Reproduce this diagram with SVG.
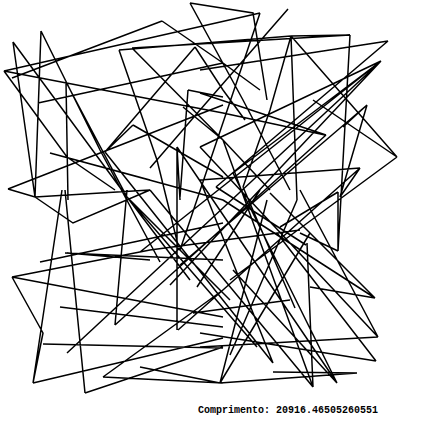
<svg xmlns="http://www.w3.org/2000/svg" width="446" height="444" viewBox="0 0 446 444">
<style>
.ln{fill:none;stroke:#000;stroke-width:1.5;stroke-linejoin:miter}
.t{font-family:"Liberation Mono","DejaVu Sans Mono",monospace;font-weight:bold;font-size:10px;fill:#000}
</style>
<rect width="446" height="444" fill="#fff"/>
<g id="path">
<path class="ln" d="
M190,3 L253,13 L267,100
M190,3 L243,100 L290,190
M260,13 L4,71 L223,113 L325,135
M260,13 L233,93 L180,250
M162,21 L12,78
M162,21 L223,63 L260,90
M4,71 L67,157 L115,190
M13,42 L35,197
M13,42 L127,197 L190,280
M41,31 L35,197
M41,31 L100,150 L160,262
M119,50 L291,36
M132,48 L350,35
M119,50 L157,160 L178,245
M132,48 L223,140 L270,190
M195,47 L105,152
M195,47 L223,90 L245,120
M38,103 L223,63
M66,82 L68,200
M66,82 L127,197 L230,300
M188,90 L223,97
M188,90 L180,197
M8,189 L223,105
M50,153 L223,200
M183,107 L223,140
M133,125 L105,152
M133,125 L223,177
M177,147 L180,200
M288,9 L200,110 L150,168
M291,36 L350,35
M291,36 L297,200
M291,36 L397,157
M291,36 L270,110 L243,187
M350,35 L338,251
M388,41 L200,70
M388,41 L216,187
M381,61 L200,147
M381,61 L233,173
M381,61 L67,353
M381,61 L140,252
M381,61 L170,285
M367,105 L340,197
M367,105 L180,265
M367,105 L343,127
M397,157 L313,100
M397,157 L230,280
M326,135 L200,93
M326,135 L115,325
M360,168 L200,180
M360,168 L340,197
M360,168 L178,330
M8,189 L35,197 L150,190
M35,197 L73,223 L150,190
M50,153 L150,180
M12,277 L150,250 L300,230
M67,253 L150,260
M40,262 L223,223
M12,277 L223,317
M12,277 L43,333 L33,383
M33,383 L223,338
M33,383 L62,190
M85,393 L65,190
M85,393 L223,347
M103,377 L223,383
M103,377 L223,290
M43,344 L223,348
M60,307 L223,327
M115,325 L127,190
M177,330 L177,147
M65,253 L223,260
M338,192 L280,227
M338,251 L300,233
M375,298 L270,193
M375,298 L310,287
M378,337 L300,190
M378,337 L200,347
M376,361 L277,233
M376,361 L200,333
M357,373 L273,372
M337,383 L233,270
M313,387 L307,243
M220,383 L357,373
M220,383 L310,233
M220,383 L140,367
M338,192 L338,251
M223,140 L313,387
M223,200 L375,298
M200,147 L378,337
M233,173 L337,383
M267,200 L220,383
M297,200 L230,355
M200,180 L273,363
M243,187 L295,308
M216,187 L306,245
M127,197 L257,347
M105,152 L273,363
M150,190 L313,387
M177,147 L337,383
M193,313 L290,300
M197,287 L260,190
"/>
</g>
<text class="t" x="198" y="413">Comprimento: 20916.46505260551</text>
</svg>
